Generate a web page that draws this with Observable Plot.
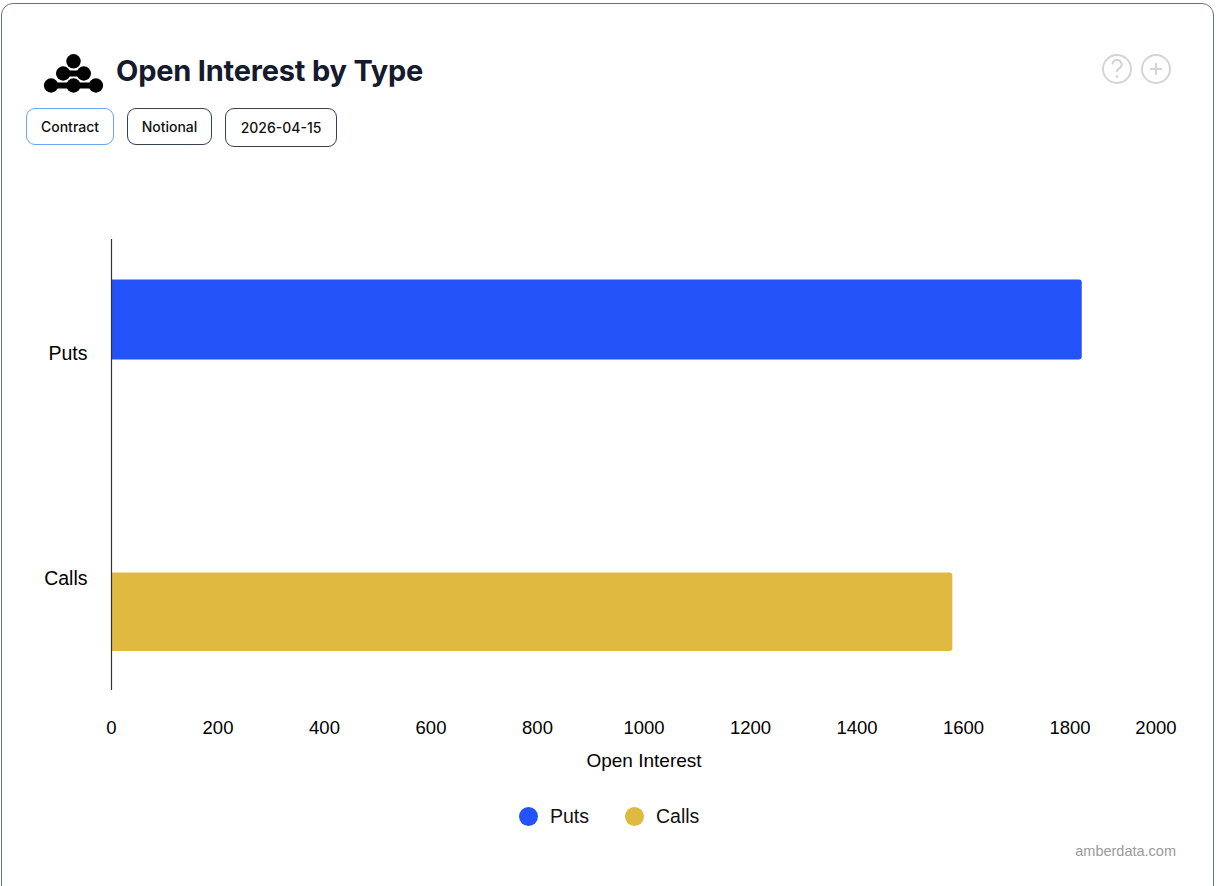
<!DOCTYPE html>
<html>
<head>
<meta charset="utf-8">
<script src="https://cdn.jsdelivr.net/npm/d3@7"></script>
<script src="https://cdn.jsdelivr.net/npm/@observablehq/plot@0.6"></script>
<style>
  html, body { margin: 0; padding: 0; background: #fff; width: 1218px; height: 886px; overflow: hidden; }
  .card { position: absolute; left: 1px; top: 3px; width: 1213px; height: 920px; border: 1.5px solid #6b7280; border-radius: 12px; box-sizing: border-box; background: #fff; }
  .title { position: absolute; left: 116px; top: 53px; font-family: Inter, "Noto Sans", sans-serif; font-weight: 700; font-size: 29px; color: #151a2d; letter-spacing: -0.2px; }
  .logo { position: absolute; left: 40px; top: 50px; }
  .btn { position: absolute; top: 108px; height: 37px; box-sizing: border-box; border: 1px solid #374151; border-radius: 9px; font-family: Inter, "Noto Sans", sans-serif; font-weight: 500; font-size: 14px; color: #111; display: flex; align-items: center; justify-content: center; background: #fff; }
  .icons { position: absolute; left: 1100px; top: 52px; }
  #chart { position: absolute; left: 0; top: 200px; }
  .legend { position: absolute; top: 805px; left: 0; width: 1218px; font-family: "Liberation Sans", Arial, sans-serif; font-size: 19.5px; color: #111; }
  .legend .item { position: absolute; display: flex; align-items: center; }
  .legend .dot { width: 19px; height: 19px; border-radius: 50%; margin-right: 12px; }
  .footer { position: absolute; right: 42px; top: 843px; font-family: "Liberation Sans", Arial, sans-serif; font-size: 14.5px; color: #9a9a9a; }
</style>
</head>
<body>
<div class="card"></div>
<svg class="logo" width="70" height="50" viewBox="40 50 70 50">
  <g fill="#000" stroke="#000" stroke-linecap="round">
    <line x1="63.2" y1="73.5" x2="83.8" y2="73.5" stroke-width="6"/>
    <line x1="51.1" y1="85.5" x2="95.9" y2="85.5" stroke-width="6"/>
    <circle cx="73.5" cy="61.3" r="7.2" stroke="none"/>
    <circle cx="63.2" cy="73.5" r="7.2" stroke="none"/>
    <circle cx="83.8" cy="73.5" r="7.2" stroke="none"/>
    <circle cx="51.1" cy="85.5" r="7.2" stroke="none"/>
    <circle cx="73.5" cy="85.5" r="7.2" stroke="none"/>
    <circle cx="95.9" cy="85.5" r="7.2" stroke="none"/>
  </g>
</svg>
<div class="title">Open Interest by Type</div>
<div class="btn" style="left:26px;width:88px;border-color:#6aa6f2;">Contract</div>
<div class="btn" style="left:127px;width:85px;">Notional</div>
<div class="btn" style="left:225px;width:112px;height:39px;">2026-04-15</div>
<svg class="icons" width="80" height="36" viewBox="1100 52 80 36">
  <g fill="none" stroke="#d4d4d4" stroke-width="2">
    <circle cx="1117" cy="69" r="14"/>
    <circle cx="1156" cy="69" r="14"/>
    <path d="M1150 69 H1162 M1156 63 V75"/>
    <path d="M1112.5 64.5 a4.5 4.5 0 1 1 6.5 4 c-1.5 0.8 -2 1.8 -2 3.5"/>
  </g>
  <circle cx="1117" cy="76.5" r="1.3" fill="#d4d4d4"/>
</svg>
<div id="chart"></div>
<div class="legend" id="legend"></div>
<div class="footer">amberdata.com</div>
<script>
const types = ["Puts", "Calls"];
const openInterest = [1823, 1580];
const colors = ["#2353F8", "#DFB940"];
const xTicks = [0, 200, 400, 600, 800, 1000, 1200, 1400, 1600, 1800];
const xLastTick = [2000];
const xLabel = "Open Interest";

const data = types.map((t, i) => ({ type: t, value: openInterest[i] }));

const chart = Plot.plot({
  width: 1218,
  height: 570,
  marginTop: 39,
  marginBottom: 80,
  marginLeft: 111,
  marginRight: 42,
  style: { fontFamily: "'Liberation Sans', Arial, sans-serif", fontSize: "18.5px", color: "#000", background: "transparent", overflow: "visible" },
  x: { domain: [0, 2000], label: null },
  y: { domain: types, padding: 0, label: null },
  color: { domain: types, range: colors },
  marks: [
    Plot.barX(data.filter(d => d.type === "Puts"), { x: "value", y: "type", fill: "type", rx: 3, insetTop: 39.5, insetBottom: 105.5, insetLeft: -4, clip: true }),
    Plot.barX(data.filter(d => d.type === "Calls"), { x: "value", y: "type", fill: "type", rx: 3, insetTop: 107.5, insetBottom: 39, insetLeft: -4, clip: true }),
    Plot.ruleX([0], { stroke: "#333", strokeWidth: 1.2 }),
    Plot.axisY({ tickSize: 0, tickPadding: 24, fontSize: 19.5, label: null, dy: 1 }),
    Plot.axisX({ ticks: xTicks, tickSize: 0, tickPadding: 30, fontSize: 18.5, tickFormat: d => String(d), label: null }),
    Plot.axisX({ ticks: xLastTick, tickSize: 0, tickPadding: 30, fontSize: 18.5, tickFormat: d => String(d), textAnchor: "end", label: null }),
    Plot.axisX({ ticks: [], tickSize: 0, label: xLabel, labelAnchor: "center", labelOffset: 76, labelArrow: "none", fontSize: 19 })
  ]
});
document.getElementById("chart").appendChild(chart);

const legend = document.getElementById("legend");
const legendX = [519, 625];
types.forEach((t, i) => {
  const item = document.createElement("div");
  item.className = "item";
  item.style.left = legendX[i] + "px";
  item.innerHTML = `<span class="dot" style="background:${colors[i]}"></span><span>${t}</span>`;
  legend.appendChild(item);
});
</script>
</body>
</html>
